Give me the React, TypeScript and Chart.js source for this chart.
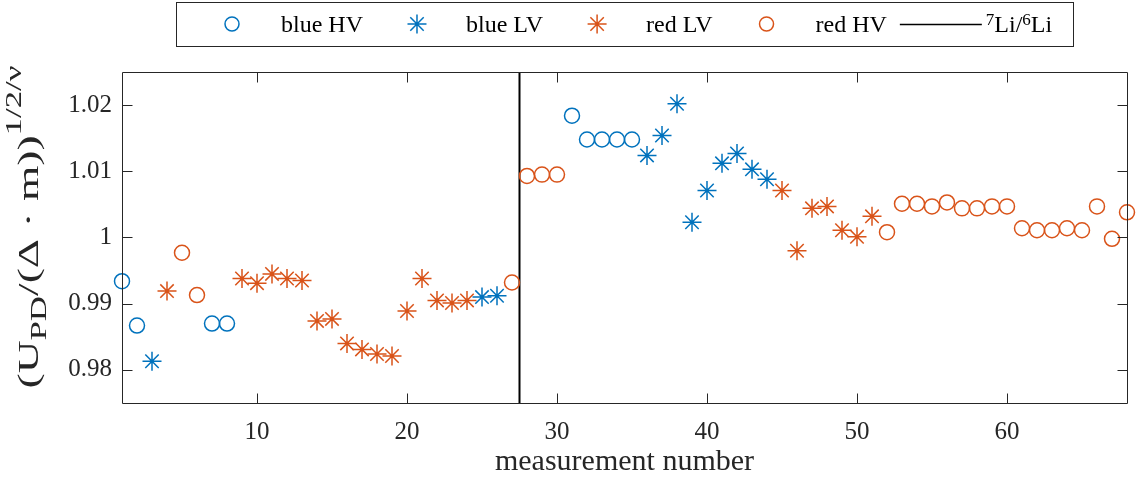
import React, { useEffect, useRef } from 'react';
import { Chart, registerables } from 'chart.js';

Chart.register(...registerables);

const FONT = '"Liberation Serif", "Times New Roman", serif';
const AXIS_COLOR = '#262626';
const BLUE = '#0072BD';
const RED = '#D95319';

// axis limits and ticks
const xMin = 1;
const xMax = 68;
const yMin = 0.975;
const yMax = 1.025;
const xTickValues = [10, 20, 30, 40, 50, 60];
const yTickValues = [0.98, 0.99, 1, 1.01, 1.02];

// 7Li / 6Li boundary (measurement number)
const liBoundary = 27.5;

// series
const blueHVx = [1, 2, 7, 8, 31, 32, 33, 34, 35];
const blueHVy = [0.9934, 0.9867, 0.987, 0.987, 1.0184, 1.0148, 1.0148, 1.0148, 1.0148];

const blueLVx = [3, 25, 26, 36, 37, 38, 39, 40, 41, 42, 43, 44];
const blueLVy = [0.9813, 0.991, 0.9912, 1.0124, 1.0154, 1.0202, 1.0023, 1.0071, 1.0112, 1.0127, 1.0103, 1.0088];

const redLVx = [4, 9, 10, 11, 12, 13, 14, 15, 16, 17, 18, 19, 20, 21, 22, 23, 24, 45, 46, 47, 48, 49, 50, 51];
const redLVy = [
  0.9919, 0.9938, 0.9931, 0.9945, 0.9938, 0.9935, 0.9874, 0.9877, 0.984, 0.9831, 0.9824, 0.9821, 0.9889, 0.9938,
  0.9905, 0.9901, 0.9905, 1.0071, 0.998, 1.0044, 1.0047, 1.0011, 1.0001, 1.0032,
];

const redHVx = [5, 6, 27, 28, 29, 30, 52, 53, 54, 55, 56, 57, 58, 59, 60, 61, 62, 63, 64, 65, 66, 67, 68];
const redHVy = [
  0.9977, 0.9913, 0.9932, 1.0093, 1.0095, 1.0095, 1.0008, 1.0051, 1.0051, 1.0047, 1.0053, 1.0044, 1.0044, 1.0047,
  1.0047, 1.0014, 1.0011, 1.0011, 1.0014, 1.0011, 1.0047, 0.9998, 1.0038,
];

const seriesLabels = ['blue HV', 'blue LV', 'red LV', 'red HV', '⁷Li/⁶Li'];
const xTitle = 'measurement number';
const yTitleParts = [
  { text: '(U', kind: 'main' },
  { text: 'PD', kind: 'sub' },
  { text: '/(Δ · m))', kind: 'main' },
  { text: '1/2', kind: 'sup' },
  { text: '/ν', kind: 'sup' },
];

const toPoints = (xs: number[], ys: number[]) => xs.map((x, i) => ({ x, y: ys[i] }));

const SUP_MAP: Record<string, string> = {
  '⁰': '0', '¹': '1', '²': '2', '³': '3', '⁴': '4', '⁵': '5', '⁶': '6', '⁷': '7', '⁸': '8', '⁹': '9',
};

function drawStar(ctx: CanvasRenderingContext2D, x: number, y: number, r: number) {
  const d = r * Math.SQRT1_2;
  ctx.beginPath();
  ctx.moveTo(x - r, y);
  ctx.lineTo(x + r, y);
  ctx.moveTo(x, y - r);
  ctx.lineTo(x, y + r);
  ctx.moveTo(x - d, y - d);
  ctx.lineTo(x + d, y + d);
  ctx.moveTo(x - d, y + d);
  ctx.lineTo(x + d, y - d);
  ctx.stroke();
}

const framePlugin = {
  id: 'matlabFrame',
  afterDatasetsDraw(chart: any) {
    const { ctx, chartArea } = chart;
    const { left, right, top, bottom } = chartArea;
    const xs = chart.scales.x;
    const ys = chart.scales.y;
    const L = Math.round(left) + 0.5;
    const R = Math.round(right) + 0.5;
    const T = Math.round(top) + 0.5;
    const B = Math.round(bottom) + 0.5;
    ctx.save();
    ctx.strokeStyle = AXIS_COLOR;
    ctx.lineWidth = 1;
    ctx.beginPath();
    ctx.rect(L, T, R - L, B - T);
    const tick = 10;
    xTickValues.forEach((v) => {
      const px = Math.round(xs.getPixelForValue(v)) + 0.5;
      ctx.moveTo(px, B);
      ctx.lineTo(px, B - tick);
      ctx.moveTo(px, T);
      ctx.lineTo(px, T + tick);
    });
    yTickValues.forEach((v) => {
      const py = Math.round(ys.getPixelForValue(v)) + 0.5;
      ctx.moveTo(L, py);
      ctx.lineTo(L + tick, py);
      ctx.moveTo(R, py);
      ctx.lineTo(R - tick, py);
    });
    ctx.stroke();
    ctx.restore();
  },
};

const yTitlePlugin = {
  id: 'yTitle',
  afterDraw(chart: any) {
    const ctx: CanvasRenderingContext2D = chart.ctx;
    const MAIN = 30;
    const SMALL = 23;
    const targetLen = 323;
    const baseX = 38;
    const centerY = 227;
    const fontFor = (k: string) => `${k === 'main' ? MAIN : SMALL}px ${FONT}`;
    ctx.save();
    let total = 0;
    const widths = yTitleParts.map((p) => {
      ctx.font = fontFor(p.kind);
      const w = ctx.measureText(p.text).width;
      total += w;
      return w;
    });
    const k = targetLen / total;
    ctx.translate(baseX, centerY);
    ctx.rotate(-Math.PI / 2);
    ctx.scale(k, 1);
    ctx.fillStyle = AXIS_COLOR;
    ctx.textAlign = 'left';
    ctx.textBaseline = 'alphabetic';
    let pos = -total / 2;
    yTitleParts.forEach((p, i) => {
      ctx.font = fontFor(p.kind);
      const dy = p.kind === 'sub' ? 8 : p.kind === 'sup' ? -17 : 0;
      ctx.fillText(p.text, pos, dy);
      pos += widths[i];
    });
    ctx.restore();
  },
};

const legendPlugin = {
  id: 'matlabLegend',
  afterDraw(chart: any) {
    const ctx: CanvasRenderingContext2D = chart.ctx;
    const boxL = 176;
    const boxT = 2;
    const boxW = 897;
    const boxH = 44;
    const midY = 24;
    const MAIN = 24;
    const SMALL = 17;
    ctx.save();
    ctx.fillStyle = '#ffffff';
    ctx.fillRect(boxL, boxT, boxW, boxH);
    ctx.strokeStyle = AXIS_COLOR;
    ctx.lineWidth = 1;
    ctx.strokeRect(boxL + 0.5, boxT + 0.5, boxW, boxH);

    let cursor = boxL + 15;
    chart.data.datasets.forEach((ds: any) => {
      const color = ds.borderColor;
      const iconC = cursor + 41;
      let textX: number;
      ctx.strokeStyle = color;
      if (ds.showLine) {
        ctx.lineWidth = 1.5;
        ctx.beginPath();
        ctx.moveTo(cursor, midY + 0.5);
        ctx.lineTo(cursor + 82, midY + 0.5);
        ctx.stroke();
        textX = cursor + 86;
      } else {
        ctx.lineWidth = 1.5;
        if (ds.pointStyle === 'star') {
          drawStar(ctx, iconC, midY, 9.5);
        } else {
          ctx.beginPath();
          ctx.arc(iconC, midY, 7, 0, Math.PI * 2);
          ctx.stroke();
        }
        textX = iconC + 49;
      }
      const segs: { t: string; sup: boolean }[] = [];
      for (const ch of String(ds.label)) {
        const isSup = ch in SUP_MAP;
        const c = isSup ? SUP_MAP[ch] : ch;
        const last = segs[segs.length - 1];
        if (last && last.sup === isSup) last.t += c;
        else segs.push({ t: c, sup: isSup });
      }
      ctx.fillStyle = '#000000';
      ctx.textAlign = 'left';
      ctx.textBaseline = 'alphabetic';
      let x = textX;
      segs.forEach((s) => {
        ctx.font = `${s.sup ? SMALL : MAIN}px ${FONT}`;
        ctx.fillText(s.t, x, s.sup ? midY + 1 : midY + 8);
        x += ctx.measureText(s.t).width;
      });
      cursor = x + 13;
    });
    ctx.restore();
  },
};

export default function App() {
  const canvasRef = useRef<HTMLCanvasElement>(null);

  useEffect(() => {
    document.body.style.margin = '0';
    const canvas = canvasRef.current;
    if (!canvas) return;
    const markerBase = {
      showLine: false,
      borderWidth: 1.5,
      backgroundColor: 'rgba(0,0,0,0)',
      clip: false as any,
    };
    const chart = new Chart(canvas, {
      type: 'scatter',
      data: {
        datasets: [
          {
            ...markerBase,
            label: seriesLabels[0],
            data: toPoints(blueHVx, blueHVy),
            pointStyle: 'circle',
            pointRadius: 7.5,
            borderColor: BLUE,
          },
          {
            ...markerBase,
            label: seriesLabels[1],
            data: toPoints(blueLVx, blueLVy),
            pointStyle: 'star',
            pointRadius: 9.5,
            borderColor: BLUE,
          },
          {
            ...markerBase,
            label: seriesLabels[2],
            data: toPoints(redLVx, redLVy),
            pointStyle: 'star',
            pointRadius: 9.5,
            borderColor: RED,
          },
          {
            ...markerBase,
            label: seriesLabels[3],
            data: toPoints(redHVx, redHVy),
            pointStyle: 'circle',
            pointRadius: 7.5,
            borderColor: RED,
          },
          {
            label: seriesLabels[4],
            data: [
              { x: liBoundary, y: yMin },
              { x: liBoundary, y: yMax },
            ],
            showLine: true,
            borderColor: '#000000',
            backgroundColor: '#000000',
            borderWidth: 2,
            pointRadius: 0,
          },
        ],
      } as any,
      options: {
        animation: false,
        responsive: false,
        maintainAspectRatio: false,
        devicePixelRatio: 1,
        events: [],
        layout: { padding: { top: 72, right: 15, left: 0, bottom: 0 } },
        plugins: {
          legend: { display: false },
          tooltip: { enabled: false },
          title: { display: false },
        },
        scales: {
          x: {
            type: 'linear',
            min: xMin,
            max: xMax,
            afterBuildTicks: (scale: any) => {
              scale.ticks = xTickValues.map((v) => ({ value: v }));
            },
            afterFit: (scale: any) => {
              scale.height = 77;
            },
            grid: { display: false, drawTicks: false },
            border: { display: false },
            ticks: {
              autoSkip: false,
              maxRotation: 0,
              padding: 14,
              color: AXIS_COLOR,
              font: { family: FONT, size: 25 },
              callback: (v: any) => String(v),
            },
            title: {
              display: true,
              text: xTitle,
              color: AXIS_COLOR,
              font: { family: FONT, size: 30 },
              padding: { top: 0, bottom: 0 },
            },
          },
          y: {
            type: 'linear',
            min: yMin,
            max: yMax,
            afterBuildTicks: (scale: any) => {
              scale.ticks = yTickValues.map((v) => ({ value: v }));
            },
            afterFit: (scale: any) => {
              scale.width = 122;
            },
            grid: { display: false, drawTicks: false },
            border: { display: false },
            ticks: {
              autoSkip: false,
              padding: 10,
              color: AXIS_COLOR,
              font: { family: FONT, size: 25 },
              callback: (v: any) => String(v),
            },
          },
        },
      } as any,
      plugins: [framePlugin, yTitlePlugin, legendPlugin],
    });
    return () => chart.destroy();
  }, []);

  return (
    <div style={{ width: 1142, height: 480 }}>
      <canvas ref={canvasRef} width={1142} height={480} style={{ display: 'block', width: 1142, height: 480 }} />
    </div>
  );
}
